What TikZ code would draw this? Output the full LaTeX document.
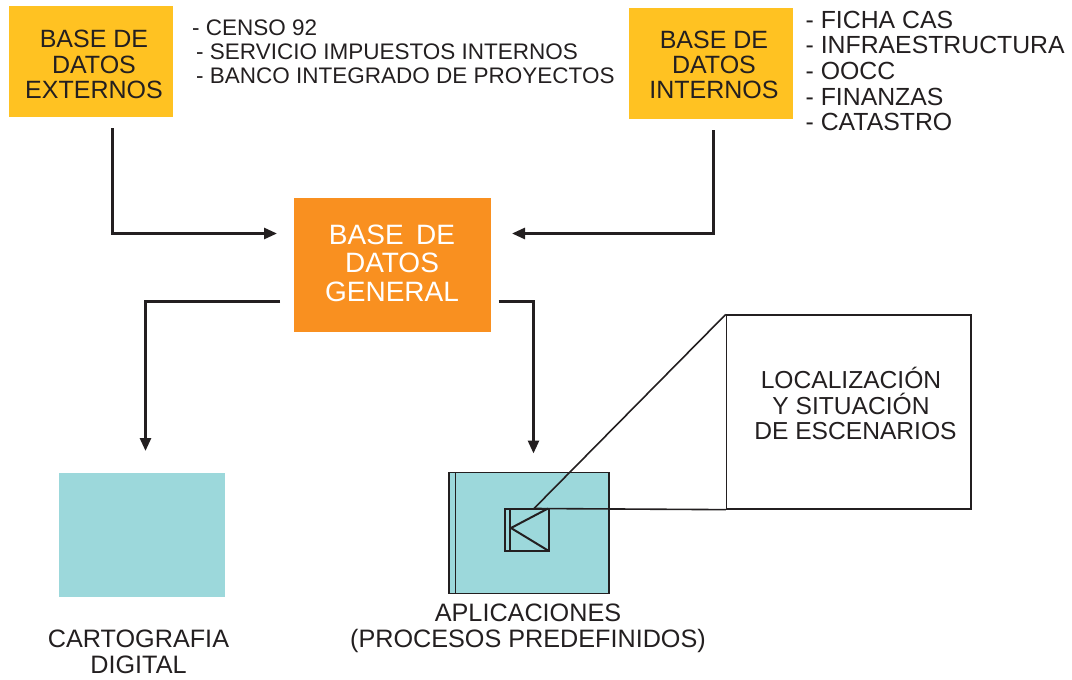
\documentclass[tikz,border=0pt]{standalone}
\usepackage{fontspec}
\setmainfont{Liberation Sans}
\usetikzlibrary{arrows.meta}
\definecolor{boxyellow}{HTML}{FFC222}
\definecolor{boxorange}{HTML}{F99020}
\definecolor{boxteal}{HTML}{9CD8DB}
\definecolor{ink}{HTML}{231F20}
\tikzset{
  x=1pt,y=-1pt,
  flow/.style={draw=ink,line width=2.7pt,-{Triangle[length=13pt,width=11pt]}},
  thin line/.style={draw=ink,line width=1.6pt},
  frame/.style={draw=ink,line width=2pt},
  yellowbox/.style={fill=boxyellow,inner sep=0pt,minimum width=164pt,minimum height=111pt},
  orangebox/.style={fill=boxorange,inner sep=0pt,minimum width=197pt,minimum height=134pt},
  tealbox/.style={fill=boxteal,inner sep=0pt},
  boxtext/.style={align=center,inner sep=0pt,font=\fontsize{25}{25.3}\selectfont,text=ink},
  listtext/.style={align=left,inner sep=0pt,anchor=north west,text=ink},
  plaintext/.style={align=center,inner sep=0pt,font=\fontsize{25.2}{26}\selectfont,text=ink},
}
\begin{document}
\begin{tikzpicture}
\useasboundingbox (0,0) rectangle (1072,680);
% boxes
\node[yellowbox] (ext) at (91,61.5) {};
\node[yellowbox] (int) at (711,63.5) {};
\node[orangebox] (gen) at (392.5,265) {};
\node[tealbox,minimum width=166pt,minimum height=124pt] (carto) at (142,535) {};
\node[tealbox,draw=ink,line width=1.3pt,minimum width=160pt,minimum height=121pt] (apl) at (529,533.2) {};
\draw[draw=ink,line width=1.3pt] (455.5,472.7) -- (455.5,593.7);
\node[draw=ink,line width=1.3pt,minimum width=244.5pt,minimum height=194pt,inner sep=0pt] (loc) at (848.7,412) {};
% box labels
\node[boxtext] (extt) at (94,64.5) {BASE DE\\DATOS\\EXTERNOS};
\node[boxtext] (intt) at (714,65) {BASE DE\\DATOS\\INTERNOS};
\node[boxtext,font=\fontsize{28}{28.5}\selectfont,text=white] (gent) at (392,263) {BASE\, DE\\DATOS\\GENERAL};
\node[listtext,font=\fontsize{22.5}{24}\selectfont] (extl) at (192,20) {- CENSO 92\\\hspace*{4pt}- SERVICIO IMPUESTOS INTERNOS\\\hspace*{4pt}- BANCO INTEGRADO DE PROYECTOS};
\node[listtext,font=\fontsize{24.8}{25.7}\selectfont] (intl) at (805.5,10.5) {- FICHA CAS\\- INFRAESTRUCTURA\\- OOCC\\- FINANZAS\\- CATASTRO};
\node[plaintext,font=\fontsize{24.6}{25.5}\selectfont] (loct) at (855.5,403.5) {\hspace*{-9pt}LOCALIZACIÓN\\\hspace*{-9pt}Y SITUACIÓN\\DE ESCENARIOS};
\node[plaintext] (cartt) at (138.5,652) {CARTOGRAFIA\\DIGITAL};
\node[plaintext] (aplt) at (528,628) {APLICACIONES\\(PROCESOS PREDEFINIDOS)};
% flow ends
\coordinate (extd) at (112.5,128);
\coordinate (intd) at (713.5,130);
\coordinate (genl) at (280,301.5);
\coordinate (genr) at (498.7,301.5);
\coordinate (genin) at (277,233.5);
\coordinate (genin2) at (512,233.5);
\coordinate (cartoin) at (145.5,451);
\coordinate (aplin) at (533.5,453.5);
\draw[flow] (extd) |- (genin);
\draw[flow] (intd) |- (genin2);
\draw[flow] (genl) -| (cartoin);
\draw[flow] (genr) -| (aplin);
% inset
\coordinate (sqa) at (504.5,508.5);
\coordinate (sqb) at (548.5,550.5);
\draw[frame] (sqa) rectangle (sqb);
\draw[frame] (509.5,508.5) -- (509.5,550.5);
\draw[frame,line join=miter] (548,508.5) -- (511,528) -- (548,550.5);
\draw[thin line] (534,508.5) -- (loc.north west);
\draw[thin line] (534,508.5) -- (loc.south west);
\end{tikzpicture}
\end{document}
